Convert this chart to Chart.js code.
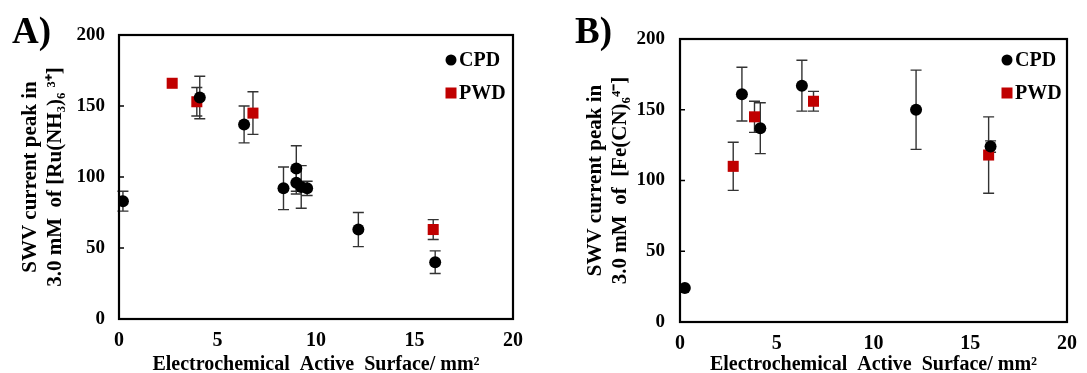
<!DOCTYPE html>
<html>
<head>
<meta charset="utf-8">
<script src="https://cdn.jsdelivr.net/npm/chart.js@4/dist/chart.umd.min.js"></script>
<style>
  html, body { margin: 0; padding: 0; background: #fff; }
  #wrap { position: relative; width: 1087px; height: 373px; }
  .panel { position: absolute; top: 0; height: 373px; }
  #pa { left: 0; width: 540px; }
  #pb { left: 540px; width: 547px; }
</style>
</head>
<body>
<div id="wrap">
  <div class="panel" id="pa"><canvas id="ca"></canvas></div>
  <div class="panel" id="pb"><canvas id="cb"></canvas></div>
</div>
<script>
// ---- Data ----
const xTicks = [0, 5, 10, 15, 20];
const yTicks = [0, 50, 100, 150, 200];

// Panel A: [Ru(NH3)6]3+
const cpdA_x   = [0.2, 4.1, 6.35, 8.35, 9.0, 9.0, 9.25, 9.55, 12.15, 16.05];
const cpdA_y   = [83, 156, 137, 92, 106, 96, 93, 92, 63, 40];
const cpdA_err = [7, 15, 13, 15, 16, 8, 15, 5, 12, 8];
const pwdA_x   = [2.7, 3.95, 6.8, 15.95];
const pwdA_y   = [166, 153, 145, 63];
const pwdA_err = [0, 10, 15, 7];

// Panel B: [Fe(CN)6]4-
const cpdB_x   = [0.25, 3.2, 4.15, 6.3, 12.2, 16.05];
const cpdB_y   = [24, 161, 137, 167, 150, 124];
const cpdB_err = [0, 19, 18, 18, 28, 4];
const pwdB_x   = [2.75, 3.85, 6.9, 15.95];
const pwdB_y   = [110, 145, 156, 118];
const pwdB_err = [17, 11, 7, 27];

const seriesNames = ['CPD', 'PWD'];
const xTitle = 'Electrochemical  Active  Surface/ mm\u00B2';
const yTitleA = ['SWV current peak in', '3.0 mM  of [Ru(NH\u2083)\u2086 \u00B3\u207A]'];
const yTitleB = ['SWV current peak in', '3.0 mM  of  [Fe(CN)\u2086\u2074\u207B]'];

const SERIF = "'Liberation Serif', 'Times New Roman', serif";
const RED = '#C00000';

function pts(xs, ys, es) {
  return xs.map((x, i) => ({ x: x, y: ys[i], err: es[i] }));
}

const errorBarPlugin = {
  id: 'errbars',
  beforeDatasetsDraw(chart) {
    const ctx = chart.ctx;
    const ys = chart.scales.y;
    ctx.save();
    ctx.strokeStyle = '#333';
    ctx.lineWidth = 1.4;
    chart.data.datasets.forEach((ds, di) => {
      const meta = chart.getDatasetMeta(di);
      meta.data.forEach((el, i) => {
        const e = ds.data[i].err;
        if (!e) return;
        const v = ds.data[i].y;
        const x = el.x;
        const y1 = ys.getPixelForValue(v + e);
        const y2 = ys.getPixelForValue(v - e);
        ctx.beginPath();
        ctx.moveTo(x, y1); ctx.lineTo(x, y2);
        ctx.moveTo(x - 5.5, y1); ctx.lineTo(x + 5.5, y1);
        ctx.moveTo(x - 5.5, y2); ctx.lineTo(x + 5.5, y2);
        ctx.stroke();
      });
    });
    ctx.restore();
  }
};

const framePlugin = {
  id: 'frame',
  afterDraw(chart, args, opts) {
    const ctx = chart.ctx;
    const a = chart.chartArea;
    const ys = chart.scales.y;
    ctx.save();
    ctx.strokeStyle = '#000';
    ctx.lineWidth = 2.2;
    ctx.strokeRect(a.left, a.top, a.right - a.left, a.bottom - a.top);
    ctx.lineWidth = 1.5;
    ys.ticks.forEach(t => {
      const y = ys.getPixelForValue(t.value);
      ctx.beginPath();
      ctx.moveTo(a.left, y); ctx.lineTo(a.left + 5, y);
      ctx.stroke();
    });
    // legend
    ctx.font = 'bold 20px ' + SERIF;
    ctx.textBaseline = 'middle';
    ctx.textAlign = 'left';
    const lx = a.right - opts.legendDx;
    const rows = [60, 93];
    chart.data.datasets.forEach((ds, di) => {
      const y = rows[di];
      ctx.fillStyle = ds.backgroundColor;
      if (ds.pointStyle === 'circle') {
        ctx.beginPath(); ctx.arc(lx, y, 5.5, 0, Math.PI * 2); ctx.fill();
      } else {
        ctx.fillRect(lx - 5.5, y - 5.5, 11, 11);
      }
      ctx.fillStyle = '#000';
      ctx.fillText(ds.label, lx + 8, y + 1);
    });
    // panel label
    ctx.font = 'bold 37px ' + SERIF;
    ctx.textBaseline = 'alphabetic';
    ctx.fillText(opts.panel, opts.panelX, 43);
    ctx.restore();
  }
};

function makeChart(id, cpd, pwd, yTitle, cfg) {
  return new Chart(document.getElementById(id), {
    type: 'scatter',
    data: {
      datasets: [
        { label: seriesNames[0], data: cpd, pointStyle: 'circle', pointRadius: 6, pointHoverRadius: 6,
          backgroundColor: '#000', borderColor: '#000', borderWidth: 0 },
        { label: seriesNames[1], data: pwd, pointStyle: 'rect', pointRadius: 7.8, pointHoverRadius: 7.8,
          backgroundColor: RED, borderColor: RED, borderWidth: 0 }
      ]
    },
    options: {
      responsive: true,
      maintainAspectRatio: false,
      animation: false,
      events: [],
      layout: { padding: { left: 0, right: cfg.padRight, top: cfg.top, bottom: 0 } },
      plugins: {
        legend: { display: false },
        tooltip: { enabled: false },
        frame: { legendDx: cfg.legendDx, panel: cfg.panel, panelX: cfg.panelX }
      },
      scales: {
        x: {
          type: 'linear', min: 0, max: 20,
          afterBuildTicks: s => { s.ticks = xTicks.map(v => ({ value: v })); },
          afterFit: s => { s.height = cfg.xH; },
          grid: { display: false, drawTicks: false },
          border: { display: false },
          ticks: { color: '#000', padding: 10, font: { family: SERIF, size: 20, weight: 'bold' }, maxRotation: 0 },
          title: { display: true, text: xTitle, color: '#000', padding: { top: 0, bottom: -2 },
                   font: { family: SERIF, size: 20, weight: 'bold', lineHeight: 1 } }
        },
        y: {
          type: 'linear', min: 0, max: 200,
          afterBuildTicks: s => { s.ticks = yTicks.map(v => ({ value: v })); },
          afterFit: s => { s.width = cfg.yW; },
          grid: { display: false, drawTicks: false },
          border: { display: false },
          ticks: { color: '#000', padding: cfg.yPad, font: { family: SERIF, size: 19, weight: 'bold' } },
          title: { display: true, text: yTitle, color: '#000', padding: { top: cfg.yTitlePad, bottom: 0 },
                   font: { family: SERIF, size: 21, weight: 'bold', lineHeight: 1.2 } }
        }
      }
    },
    plugins: [errorBarPlugin, framePlugin]
  });
}

makeChart('ca', pts(cpdA_x, cpdA_y, cpdA_err), pts(pwdA_x, pwdA_y, pwdA_err), yTitleA,
  { padRight: 27, top: 35, xH: 54, yW: 119, yPad: 14, yTitlePad: 18, legendDx: 62, panel: 'A)', panelX: 12 });
makeChart('cb', pts(cpdB_x, cpdB_y, cpdB_err), pts(pwdB_x, pwdB_y, pwdB_err), yTitleB,
  { padRight: 17, top: 39, xH: 51, yW: 140, yPad: 15, yTitlePad: 43, legendDx: 60, panel: 'B)', panelX: 35 });
</script>
</body>
</html>
